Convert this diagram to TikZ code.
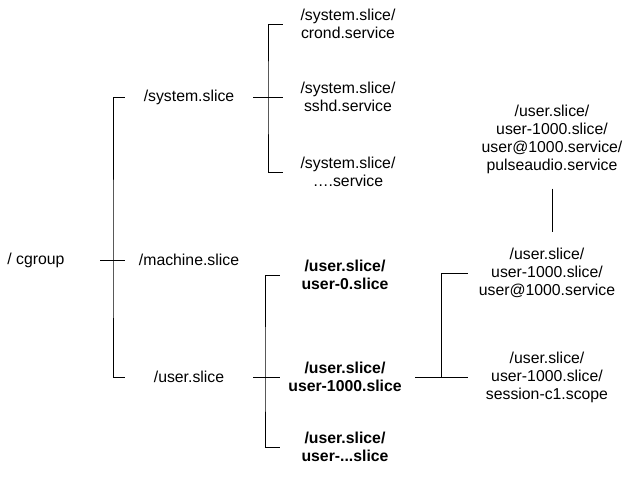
\documentclass[tikz,border=0pt]{standalone}
\usepackage{fontspec}
\setmainfont{Liberation Sans}
\usetikzlibrary{positioning,calc}

\tikzset{
    rotulo/.style={inner sep=0pt, align=center, font=\fontsize{15.8}{18}\selectfont},
    negrito/.style={font=\fontsize{15.8}{18}\selectfont\bfseries},
    nivelum/.style={rotulo, minimum width=128pt},
    niveldois/.style={rotulo, minimum width=130pt},
    niveltres/.style={rotulo, minimum width=158pt},
    ramo/.style={draw=black, line width=0.8pt}
}

\begin{document}
\begin{tikzpicture}[x=1pt, y=-1pt]
        \useasboundingbox (0, 0) rectangle (623, 479);

        % Raiz
        \node[rotulo, minimum width=128pt] (raiz) at (36, 260) {/ cgroup};
        \coordinate (raizeixo) at (113, 260);

        % Fatias
        \node[nivelum] (sistema) at (189, 97) {/system.slice};
        \node[nivelum] (maquina) at (189, 260) {/machine.slice};
        \node[nivelum] (usuario) at (189, 377) {/user.slice};

        \draw[ramo] (raiz.east) -- (maquina.west);
        \draw[ramo] (sistema.west) -| (raizeixo) |- (usuario.west);

        % Servicos do sistema
        \node[niveldois] (crond) at (348, 24) {/system.slice/\\crond.service};
        \node[niveldois] (sshd) at (348, 97) {/system.slice/\\sshd.service};
        \node[niveldois] (outros) at (348, 172) {/system.slice/\\….service};
        \coordinate (sistemaeixo) at (268, 97);

        \draw[ramo] (sistema.east) -- (sshd.west);
        \draw[ramo] (crond.west) -| (sistemaeixo) |- (outros.west);

        % Fatias de usuario
        \node[niveldois, negrito] (userzero) at (345, 275) {/user.slice/\\user-0.slice};
        \node[niveldois, negrito] (usermil) at (345, 377) {/user.slice/\\user-1000.slice};
        \node[niveldois, negrito] (userdots) at (345, 447) {/user.slice/\\user-...slice};
        \coordinate (usuarioeixo) at (265, 377);

        \draw[ramo] (usuario.east) -- (usermil.west);
        \draw[ramo] (userzero.west) -| (usuarioeixo) |- (userdots.west);

        % Dentro de user-1000
        \node[niveltres] (servico) at (547, 273) {/user.slice/\\user-1000.slice/\\user@1000.service};
        \node[niveltres] (sessao) at (547, 377) {/user.slice/\\user-1000.slice/\\session-c1.scope};
        \node[rotulo] (pulse) at (552, 139) {/user.slice/\\user-1000.slice/\\user@1000.service/\\pulseaudio.service};
        \coordinate (milexo) at (441, 377);

        \draw[ramo, shorten <=5pt] (usermil.east) -- (sessao.west);
        \draw[ramo] (servico.west) -| (milexo);
        \draw[ramo, shorten <=15pt, shorten >=16pt] (pulse.south) -- (pulse.south |- servico.north);
    \end{tikzpicture}
\end{document}
